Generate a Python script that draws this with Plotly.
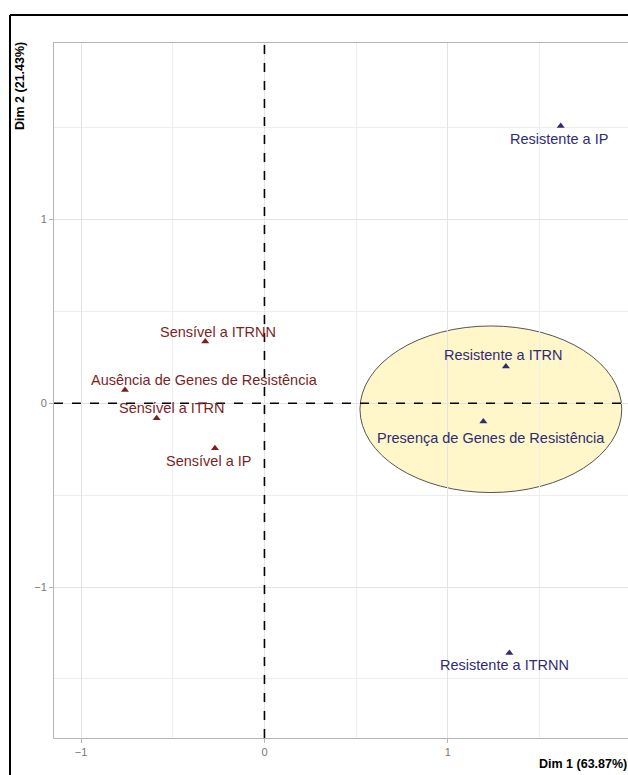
import plotly.graph_objects as go

# ---------------- data ----------------
labels = [
    "Sensível a ITRNN",
    "Ausência de Genes de Resistência",
    "Sensível a ITRN",
    "Sensível a IP",
    "Resistente a ITRN",
    "Presença de Genes de Resistência",
    "Resistente a IP",
    "Resistente a ITRNN",
]
dim1 = [-0.323, -0.761, -0.588, -0.270, 1.317, 1.194, 1.616, 1.336]
dim2 = [0.335, 0.072, -0.082, -0.245, 0.199, -0.100, 1.507, -1.359]
group = ["Sensível", "Sensível", "Sensível", "Sensível",
         "Resistente", "Resistente", "Resistente", "Resistente"]

ellipse_center = [1.235, -0.033]
ellipse_radii = [0.714, 0.453]

x_title = "Dim 1 (63.87%)"
y_title = "Dim 2 (21.43%)"
x_ticks = [-1, 0, 1]
y_ticks = [-1, 0, 1]

# ---------------- style ----------------
W, H = 628, 775
ML, MR, MT, MB = 54, 0, 43, 37
PW, PH = W - ML - MR, H - MT - MB
colors = {"Sensível": "#7d1f1f", "Resistente": "#2f2c74"}
# label offsets (pixels) like ggrepel
label_shift = [(13, 10), (80, 10), (15, 10), (-6, -13),
               (-3, 12), (8, -16), (-2, -13), (-5, -12)]
FONT = "Liberation Sans, Arial, sans-serif"

fig = go.Figure()

for g in ["Sensível", "Resistente"]:
    xs = [x for x, gg in zip(dim1, group) if gg == g]
    ys = [y for y, gg in zip(dim2, group) if gg == g]
    fig.add_trace(go.Scatter(
        x=xs, y=ys, mode="markers",
        marker=dict(symbol="triangle-up", size=7, color=colors[g]),
        showlegend=False, hoverinfo="skip"))

annotations = []
for lab, x, y, g, (dx, dy) in zip(labels, dim1, dim2, group, label_shift):
    annotations.append(dict(
        x=x, y=y, xref="x", yref="y", text=lab, showarrow=False,
        xshift=dx, yshift=dy, xanchor="center", yanchor="middle",
        font=dict(family=FONT, size=14.5, color=colors[g])))

def px_to_paper_x(px):
    return (px - ML) / PW

def px_to_paper_y(py):
    return (H - MB - py) / PH

annotations.append(dict(
    x=px_to_paper_x(20), y=px_to_paper_y(86), xref="paper", yref="paper",
    text="<b>%s</b>" % y_title, showarrow=False, textangle=-90,
    xanchor="center", yanchor="middle",
    font=dict(family=FONT, size=12.5, color="black")))
annotations.append(dict(
    x=px_to_paper_x(537), y=px_to_paper_y(764), xref="paper", yref="paper",
    text="<b>%s</b>" % x_title, showarrow=False,
    xanchor="left", yanchor="middle",
    font=dict(family=FONT, size=12.5, color="black")))

shapes = [
    # confidence ellipse
    dict(type="circle", xref="x", yref="y", layer="below",
         x0=ellipse_center[0] - ellipse_radii[0], x1=ellipse_center[0] + ellipse_radii[0],
         y0=ellipse_center[1] - ellipse_radii[1], y1=ellipse_center[1] + ellipse_radii[1],
         fillcolor="rgba(255,236,120,0.40)", line=dict(color="#555555", width=1)),
    # dashed zero lines
    dict(type="line", xref="x", yref="paper", x0=0, x1=0, y0=0, y1=1,
         line=dict(color="black", width=1.6, dash="dash")),
    dict(type="line", xref="paper", yref="y", x0=0, x1=1, y0=0, y1=0,
         line=dict(color="black", width=1.6, dash="dash")),
    # outer black frame (left & top)
    dict(type="line", xref="paper", yref="paper",
         x0=px_to_paper_x(10), x1=px_to_paper_x(10),
         y0=px_to_paper_y(H + 5), y1=px_to_paper_y(15),
         line=dict(color="black", width=2)),
    dict(type="line", xref="paper", yref="paper",
         x0=px_to_paper_x(10), x1=px_to_paper_x(W + 5),
         y0=px_to_paper_y(15), y1=px_to_paper_y(15),
         line=dict(color="black", width=2)),
]

axis_common = dict(
    showgrid=True, gridcolor="#e3e3e3", gridwidth=1,
    zeroline=False, showline=True, linecolor="#b5b5b5", linewidth=1,
    ticks="outside", ticklen=4, tickcolor="#b5b5b5", tickwidth=1,
    tickfont=dict(family=FONT, size=11, color="#777777"),
    minor=dict(dtick=0.5, showgrid=True, gridcolor="#eeeeee", gridwidth=1, ticks=""),
)

fig.update_layout(
    width=W, height=H,
    margin=dict(l=ML, r=MR, t=MT, b=MB, autoexpand=False),
    paper_bgcolor="white", plot_bgcolor="white",
    xaxis=dict(range=[-1.148, 1.983], tickvals=x_ticks, tick0=0, dtick=1,
               tickmode="array", ticktext=["\u22121", "0", "1"], mirror=True,
               **axis_common),
    yaxis=dict(range=[-1.821, 1.959], tickvals=y_ticks, tick0=0, dtick=1,
               tickmode="array", ticktext=["\u22121", "0", "1"], mirror=False,
               **axis_common),
    annotations=annotations, shapes=shapes,
    font=dict(family=FONT),
)

fig.write_html("out.html")
